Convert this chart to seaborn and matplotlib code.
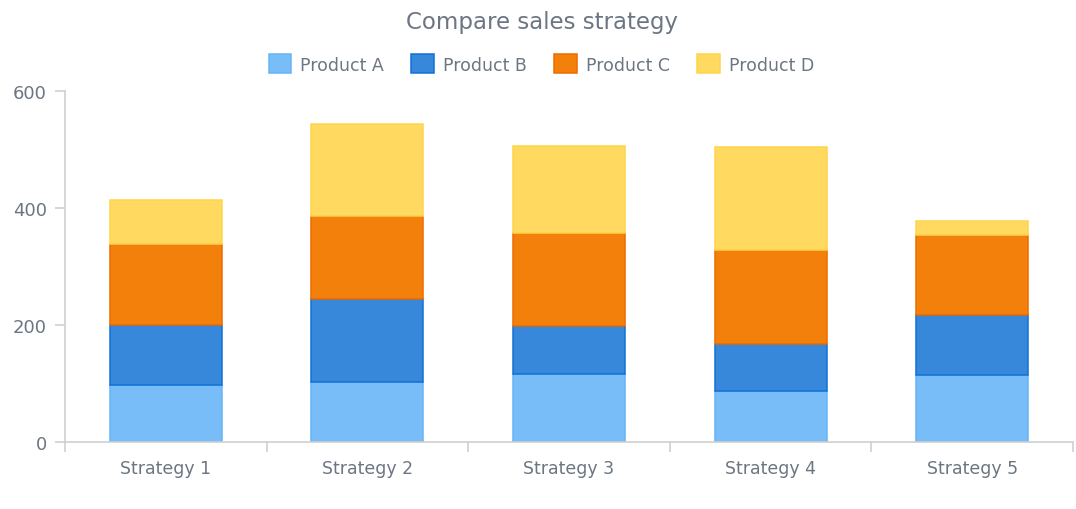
import matplotlib
matplotlib.use("Agg")
import matplotlib.pyplot as plt
import numpy as np
import pandas as pd
import seaborn as sns
from matplotlib.ticker import FixedLocator

strategies = ["Strategy 1", "Strategy 2", "Strategy 3", "Strategy 4", "Strategy 5"]
products = ["Product A", "Product B", "Product C", "Product D"]
product_a = [97, 103, 117, 88, 115]
product_b = [103, 141, 81, 80, 102]
product_c = [139, 143, 160, 161, 137]
product_d = [74, 157, 148, 175, 23]
y_ticks = [0, 200, 400, 600]

_FILL = {
    "Product A": "#78bdf8",
    "Product B": "#3788db",
    "Product C": "#f2800a",
    "Product D": "#ffd960",
}
_EDGE = {
    "Product A": "#64b5f6",
    "Product B": "#1171d6",
    "Product C": "#ef6c00",
    "Product D": "#ffd54a",
}
TEXT = "#6c7682"
AXIS = "#cfcfcf"

sns.set_theme(style="white")
plt.rcParams["font.family"] = ["DejaVu Sans"]

series = dict(zip(products, [product_a, product_b, product_c, product_d]))

fig = plt.figure(figsize=(10.76, 5.10), dpi=100)
ax = fig.add_axes([65 / 1076, 67 / 510, 1008 / 1076, 351 / 510])

bottom = np.zeros(len(strategies))
for name in products:
    vals = np.array(series[name], dtype=float)
    df = pd.DataFrame({"strategy": strategies, "value": vals})
    sns.barplot(
        data=df,
        x="strategy",
        y="value",
        order=strategies,
        errorbar=None,
        width=0.555,
        color=_FILL[name],
        saturation=1,
        bottom=bottom.copy(),
        edgecolor=_EDGE[name],
        linewidth=1.1,
        label=name,
        ax=ax,
    )
    bottom += vals

ax.set_xlim(-0.5, len(strategies) - 0.5)
ax.set_ylim(0, 600)
ax.set_yticks(y_ticks)
ax.set_xlabel("")
ax.set_ylabel("")

for side in ["top", "right"]:
    ax.spines[side].set_visible(False)
for side in ["left", "bottom"]:
    ax.spines[side].set_color(AXIS)
    ax.spines[side].set_linewidth(1.2)

ax.xaxis.set_minor_locator(FixedLocator(np.arange(-0.5, len(strategies), 1.0)))
ax.tick_params(axis="x", which="major", length=0, pad=12, labelsize=12.5, labelcolor=TEXT)
ax.tick_params(axis="x", which="minor", bottom=True, length=7, width=1.2, color=AXIS)
ax.tick_params(axis="y", which="major", left=True, length=7, width=1.2, color=AXIS,
               pad=6, labelsize=13, labelcolor=TEXT)

if ax.get_legend() is not None:
    ax.get_legend().remove()
handles, labels = ax.get_legend_handles_labels()
fig.legend(
    handles[: len(products)],
    labels[: len(products)],
    loc="center",
    bbox_to_anchor=(0.503, 1 - 65 / 510),
    ncol=4,
    frameon=False,
    fontsize=12.5,
    labelcolor=TEXT,
    handlelength=1.3,
    handleheight=1.3,
    handletextpad=0.5,
    columnspacing=1.6,
)

fig.text(0.504, 1 - 23 / 510, "Compare sales strategy", ha="center", va="center",
         fontsize=16.5, color=TEXT)

fig.savefig("out.png", dpi=100)
